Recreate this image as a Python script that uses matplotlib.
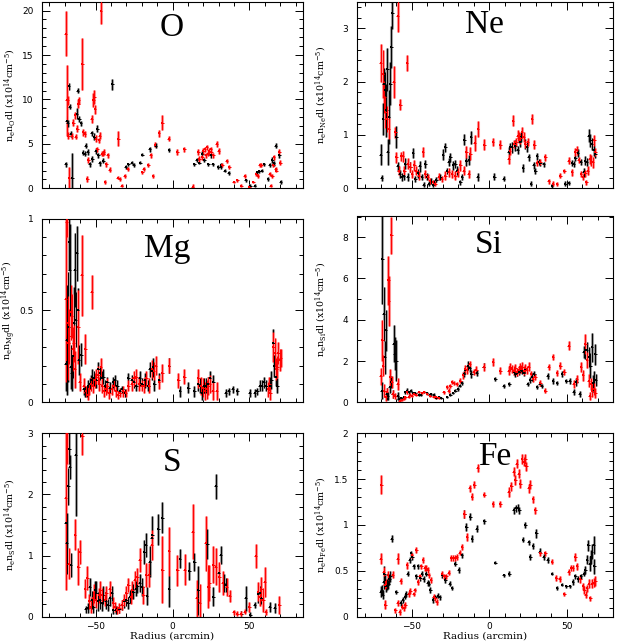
import matplotlib
matplotlib.use('Agg')
import matplotlib.pyplot as plt
from matplotlib.ticker import MultipleLocator, FuncFormatter

# ---------------- data: (radius, value, error) ----------------
O_RED = [(-69.3,17.4,2.5),(-68.8,9.9,4.0),(-68.2,9.9,0.5),(-67.7,5.9,0.4),(-67.3,1.2,1.2),(-65.6,5.9,0.3),(-64.5,7.4,0.4),
 (-63.4,8.2,0.4),(-62.8,5.8,0.3),(-61.9,6.7,0.4),(-61.3,9.5,0.5),(-60.8,9.9,0.4),(-58.7,14.0,2.9),(-58.0,6.3,0.4),
 (-56.9,6.1,0.3),(-55.4,1.05,0.3),(-54.8,3.2,0.3),(-52.6,7.8,0.4),(-51.5,9.9,0.8),(-50.9,10.3,0.8),(-50.4,8.9,0.5),
 (-49.8,5.6,0.4),(-48.9,4.4,0.3),(-47.8,5.4,0.3),(-47.2,5.9,0.4),(-46.5,20.0,1.5),(-45.9,3.9,0.3),(-45.0,3.9,0.3),
 (-44.6,4.1,0.3),(-43.9,0.7,0.2),(-42.9,2.7,0.3),(-42.2,3.7,0.3),(-40.7,2.1,0.3),(-35.7,1.2,0.2),(-35.1,5.6,0.8),
 (-34.2,1.05,0.2),(-33.1,0.3,0.2),(-31.0,1.4,0.2),(-29.2,2.2,0.2),(-19.5,1.8,0.2),(-18.6,2.2,0.2),(-15.6,2.6,0.2),
 (-14.1,3.7,0.3),(-12.6,1.4,0.2),(-11.3,4.9,0.3),(-8.7,6.2,0.4),(-6.5,7.4,0.8),(-2.4,5.6,0.3),(3.2,4.1,0.3),
 (7.6,4.4,0.3),(13.0,0.1,0.4),(16.7,4.1,0.3),(17.3,3.3,0.3),(19.3,3.5,0.3),(19.9,4.2,0.3),(21.0,4.4,0.3),(21.6,3.7,0.3),
 (22.3,4.6,0.3),(23.2,3.9,0.3),(23.8,4.2,0.3),(24.7,4.4,0.3),(25.1,4.1,0.3),(26.4,3.7,0.3),(28.6,5.0,0.3),(30.1,4.2,0.3),
 (32.3,2.6,0.2),(35.1,3.1,0.2),(36.8,2.4,0.2),(39.8,0.7,0.15),(42.2,0.9,0.15),(44.8,0.3,0.15),(47.0,1.4,0.2),
 (49.8,0.2,0.15),(52.4,0.7,0.15),(54.5,1.6,0.2),(55.6,1.4,0.2),(56.7,2.6,0.2),(57.8,2.6,0.2),(63.2,1.6,0.2),
 (63.9,0.3,0.15),(64.9,1.4,0.2),(65.4,2.6,0.2),(66.0,3.5,0.3),(67.1,2.2,0.2),(67.5,2.0,0.2),(69.3,4.1,0.3),(70.1,2.9,0.3)]
O_BLK = [(-69.5,2.7,0.3),(-68.8,7.6,0.5),(-68.2,7.3,0.4),(-67.5,11.5,0.4),(-66.7,9.2,0.3),(-66.2,6.1,0.3),(-65.2,1.2,2.8),
 (-62.3,8.4,0.6),(-61.7,11.0,0.3),(-60.6,7.8,0.3),(-59.5,7.3,0.3),(-58.0,4.0,0.3),(-56.9,3.9,0.3),(-56.3,4.8,0.3),
 (-55.2,4.1,0.3),(-53.7,2.7,0.3),(-52.6,6.2,0.3),(-52.0,3.3,0.3),(-50.9,5.8,0.4),(-50.0,4.2,0.3),(-48.9,6.7,0.4),
 (-48.3,3.7,0.3),(-47.2,2.8,0.3),(-45.0,3.1,0.3),(-39.2,11.7,0.6),(-30.3,2.4,0.2),(-28.8,2.7,0.2),(-26.6,2.9,0.2),
 (-25.1,2.6,0.2),(-20.8,2.9,0.2),(-19.5,3.8,0.2),(-14.7,4.4,0.3),(-10.8,4.8,0.3),(-2.2,4.3,0.2),(14.1,2.7,0.2),
 (15.6,3.2,0.2),(17.3,2.9,0.2),(19.3,3.9,0.3),(20.6,3.2,0.2),(23.2,2.7,0.2),(24.7,3.7,0.3),(26.0,2.7,0.2),(29.7,2.4,0.2),
 (31.2,2.4,0.2),(31.8,2.6,0.2),(34.0,2.0,0.2),(36.4,1.7,0.2),(47.6,0.9,0.2),(50.6,0.3,0.15),(53.5,0.3,0.15),
 (55.2,1.8,0.2),(56.3,1.9,0.2),(58.0,2.0,0.2),(59.5,2.7,0.2),(62.1,1.05,0.2),(63.2,2.6,0.2),(64.9,3.2,0.3),
 (66.0,2.8,0.3),(67.1,4.8,0.3),(69.3,3.7,0.3),(70.3,0.7,0.2)]

NE_RED = [(-69.9,2.35,0.35),(-68.6,2.14,0.45),(-67.7,1.71,0.3),(-67.1,1.43,0.3),(-66.0,1.30,0.25),(-64.9,1.12,0.2),
 (-61.7,2.0,0.3),(-60.6,1.05,0.1),(-60.0,0.58,0.1),(-59.1,3.23,0.3),(-58.5,0.33,0.08),(-57.4,1.57,0.1),(-56.8,0.60,0.08),
 (-55.7,0.60,0.1),(-54.8,0.33,0.08),(-53.1,2.35,0.15),(-52.5,0.46,0.1),(-51.0,0.40,0.1),(-49.9,0.27,0.08),(-48.4,0.43,0.1),
 (-47.1,0.33,0.08),(-45.6,0.24,0.08),(-42.8,0.68,0.1),(-41.3,0.27,0.08),(-39.8,0.21,0.06),(-38.1,0.14,0.06),
 (-36.3,0.11,0.05),(-34.8,0.09,0.05),(-32.7,0.22,0.06),(-30.5,0.18,0.06),(-28.4,0.24,0.08),(-26.2,0.30,0.08),
 (-24.1,0.27,0.08),(-21.9,0.24,0.08),(-20.2,0.30,0.08),(-18.7,0.43,0.1),(-16.6,0.33,0.08),(-14.8,0.68,0.12),
 (-13.3,0.27,0.08),(-12.3,0.65,0.12),(-9.5,0.85,0.15),(-7.3,1.12,0.15),(-3.2,0.82,0.1),(2.4,0.87,0.08),(7.1,0.82,0.08),
 (12.5,0.55,0.1),(13.1,0.70,0.08),(15.3,1.27,0.1),(16.1,0.83,0.08),(17.4,0.87,0.08),(18.3,0.99,0.1),(19.1,0.95,0.1),
 (20.0,0.94,0.1),(21.1,1.05,0.1),(22.2,0.96,0.1),(23.2,0.83,0.08),(24.7,0.87,0.08),(27.5,1.30,0.1),(29.0,0.82,0.08),
 (30.8,0.47,0.06),(32.9,0.49,0.06),(36.1,0.58,0.06),(38.3,0.13,0.04),(41.1,0.09,0.04),(43.7,0.08,0.04),(45.8,0.24,0.04),
 (48.4,0.33,0.04),(51.2,0.52,0.06),(53.3,0.30,0.06),(55.5,0.68,0.08),(56.6,0.71,0.08),(57.6,0.53,0.06),(59.1,0.27,0.06),
 (60.4,0.21,0.06),(61.9,0.28,0.06),(62.6,0.11,0.05),(63.4,0.33,0.08),(64.7,0.55,0.1),(65.6,0.52,0.1),(66.9,0.49,0.1),
 (67.7,0.90,0.1),(68.4,0.68,0.08)]
NE_BLK = [(-69.9,0.63,0.2),(-69.5,0.19,0.06),(-68.6,1.30,0.3),(-68.0,1.96,0.3),(-67.1,1.84,0.35),(-66.5,1.46,0.5),
 (-65.8,2.23,0.4),(-65.4,0.68,0.25),(-64.7,1.34,0.5),(-63.9,1.96,0.4),(-63.2,2.65,0.4),(-62.6,3.28,0.3),(-60.0,0.96,0.2),
 (-59.1,0.41,0.08),(-57.8,0.27,0.08),(-56.3,0.21,0.08),(-55.3,0.24,0.08),(-54.2,0.46,0.1),(-52.7,0.21,0.08),
 (-51.0,0.40,0.1),(-49.2,0.66,0.1),(-47.7,0.18,0.06),(-46.2,0.28,0.08),(-44.9,0.41,0.1),(-43.4,0.21,0.06),
 (-42.4,0.07,0.05),(-41.3,0.46,0.08),(-40.2,0.22,0.06),(-39.1,0.09,0.05),(-37.6,0.14,0.05),(-36.3,0.07,0.05),
 (-35.5,0.11,0.05),(-34.2,0.16,0.05),(-31.6,0.21,0.06),(-29.9,0.63,0.1),(-28.4,0.77,0.08),(-27.3,0.33,0.06),
 (-26.2,0.49,0.08),(-25.2,0.58,0.08),(-23.4,0.43,0.08),(-21.9,0.46,0.08),(-20.9,0.33,0.08),(-18.7,0.11,0.05),
 (-17.6,0.21,0.06),(-16.0,0.91,0.1),(-14.8,0.52,0.1),(-13.3,0.53,0.1),(-11.8,0.96,0.12),(-7.5,0.21,0.08),(3.2,0.22,0.06),
 (9.2,0.18,0.05),(12.5,0.68,0.1),(13.5,0.77,0.08),(14.6,0.77,0.1),(16.8,0.80,0.1),(18.3,0.72,0.08),(19.6,0.87,0.1),
 (20.6,0.96,0.1),(21.7,0.38,0.08),(23.2,0.83,0.1),(24.3,0.78,0.1),(25.4,0.58,0.06),(26.9,0.09,0.05),(28.6,0.43,0.06),
 (29.7,0.33,0.06),(30.8,0.60,0.06),(31.8,0.49,0.06),(32.9,0.47,0.06),(35.1,0.45,0.05),(40.4,0.05,0.04),(49.0,0.09,0.04),
 (51.2,0.10,0.04),(53.3,0.47,0.06),(54.4,0.46,0.06),(55.5,0.57,0.06),(57.2,0.66,0.08),(59.1,0.49,0.06),(60.9,0.30,0.08),
 (61.9,0.52,0.08),(63.0,0.49,0.08),(64.1,0.99,0.12),(65.2,0.90,0.12),(66.2,0.83,0.12),(67.3,0.71,0.1),(68.4,0.65,0.08)]

MG_RED = [(-69.5,0.56,0.45),(-68.8,0.98,0.08),(-68.2,0.43,0.15),(-67.7,0.32,0.2),(-67.1,0.36,0.15),(-66.2,0.49,0.15),
 (-65.6,0.47,0.12),(-64.9,0.29,0.12),(-64.1,0.32,0.1),(-63.4,0.18,0.1),(-61.3,0.41,0.2),(-60.2,0.11,0.05),
 (-58.9,0.69,0.22),(-57.6,0.09,0.04),(-56.7,0.29,0.08),(-56.3,0.06,0.03),(-55.2,0.04,0.03),(-54.1,0.07,0.03),
 (-53.2,0.10,0.04),(-52.4,0.60,0.09),(-51.5,0.09,0.04),(-50.4,0.12,0.04),(-49.4,0.14,0.04),(-48.3,0.15,0.05),
 (-47.6,0.10,0.04),(-46.5,0.19,0.05),(-45.5,0.09,0.04),(-44.4,0.06,0.03),(-43.3,0.07,0.03),(-42.4,0.09,0.04),
 (-41.1,0.05,0.03),(-39.6,0.07,0.03),(-38.1,0.09,0.03),(-36.4,0.06,0.03),(-35.1,0.04,0.02),(-33.8,0.05,0.02),
 (-32.0,0.06,0.03),(-30.3,0.05,0.02),(-28.8,0.09,0.03),(-26.6,0.10,0.04),(-24.9,0.13,0.04),(-23.4,0.14,0.04),
 (-21.6,0.10,0.04),(-19.9,0.09,0.03),(-18.6,0.09,0.04),(-16.9,0.13,0.04),(-15.2,0.09,0.04),(-13.6,0.18,0.05),
 (-12.1,0.17,0.05),(-10.8,0.20,0.05),(-8.7,0.11,0.04),(-6.5,0.16,0.05),(-2.2,0.20,0.04),(3.7,0.12,0.04),(7.6,0.14,0.04),
 (16.7,0.13,0.05),(18.4,0.09,0.05),(19.9,0.08,0.05),(21.0,0.06,0.05),(22.1,0.07,0.05),(23.2,0.09,0.05),(24.2,0.10,0.05),
 (26.0,0.06,0.05),(28.6,0.06,0.05),(62.1,0.07,0.04),(62.8,0.10,0.04),(63.6,0.05,0.04),(65.4,0.30,0.08),(66.5,0.27,0.08),
 (67.5,0.18,0.06),(68.2,0.19,0.06),(68.8,0.27,0.06),(69.7,0.23,0.06),(70.3,0.24,0.05)]
MG_BLK = [(-69.5,0.21,0.15),(-68.8,0.34,0.3),(-68.4,0.22,0.15),(-67.7,0.41,0.3),(-67.3,0.87,0.15),(-66.7,0.72,0.25),
 (-66.2,0.19,0.12),(-65.6,0.16,0.1),(-64.9,0.25,0.12),(-64.1,0.43,0.2),(-63.6,0.72,0.2),(-62.8,0.45,0.15),
 (-62.1,0.81,0.15),(-61.7,0.50,0.12),(-61.0,0.23,0.08),(-59.3,0.26,0.06),(-57.6,0.07,0.03),(-56.7,0.06,0.03),
 (-55.8,0.06,0.03),(-54.8,0.09,0.03),(-53.7,0.10,0.03),(-52.8,0.12,0.03),(-52.0,0.14,0.04),(-51.1,0.13,0.04),
 (-49.4,0.12,0.04),(-48.3,0.18,0.04),(-47.2,0.16,0.04),(-46.1,0.13,0.04),(-45.0,0.14,0.04),(-43.9,0.09,0.03),
 (-42.4,0.11,0.03),(-40.7,0.08,0.03),(-38.5,0.11,0.03),(-37.4,0.12,0.03),(-35.9,0.09,0.03),(-34.2,0.06,0.02),
 (-32.5,0.07,0.02),(-31.0,0.05,0.02),(-28.8,0.13,0.03),(-26.6,0.12,0.03),(-25.1,0.11,0.03),(-23.4,0.09,0.03),
 (-21.2,0.13,0.04),(-19.5,0.10,0.03),(-18.0,0.12,0.04),(-15.8,0.09,0.03),(-14.7,0.18,0.04),(-13.6,0.17,0.05),
 (-12.6,0.19,0.05),(-11.9,0.10,0.04),(-8.7,0.12,0.04),(-2.2,0.20,0.04),(4.8,0.06,0.03),(10.2,0.08,0.03),(14.1,0.06,0.03),
 (16.7,0.10,0.04),(17.7,0.09,0.04),(19.3,0.05,0.04),(20.3,0.09,0.04),(21.6,0.09,0.04),(23.2,0.10,0.04),(24.2,0.13,0.04),
 (26.4,0.11,0.04),(34.6,0.05,0.02),(36.6,0.06,0.02),(39.0,0.07,0.02),(42.0,0.06,0.02),(50.2,0.05,0.02),(53.5,0.05,0.02),
 (55.0,0.06,0.02),(56.7,0.09,0.03),(58.2,0.09,0.03),(59.5,0.11,0.03),(61.0,0.09,0.03),(63.2,0.09,0.05),(64.3,0.12,0.05),
 (65.4,0.32,0.08),(66.0,0.20,0.06),(67.1,0.14,0.05),(68.0,0.09,0.04)]

SI_RED = [(-69.9,1.26,0.4),(-69.0,3.0,1.0),(-68.6,1.78,0.5),(-67.7,0.57,0.3),(-66.9,0.24,0.2),(-66.0,0.49,0.2),
 (-65.2,5.9,1.2),(-64.7,4.9,1.2),(-63.9,1.21,0.4),(-63.2,8.1,0.9),(-62.8,0.97,0.3),(-62.2,0.40,0.2),(-60.6,0.32,0.15),
 (-59.1,0.89,0.3),(-57.8,0.08,0.06),(-56.3,0.11,0.06),(-55.3,0.16,0.06),(-54.2,0.24,0.06),(-53.1,0.52,0.1),
 (-52.0,0.28,0.06),(-51.0,0.37,0.06),(-49.9,0.32,0.06),(-48.8,0.40,0.06),(-47.1,0.37,0.06),(-45.6,0.49,0.06),
 (-43.4,0.44,0.06),(-41.9,0.49,0.06),(-40.2,0.40,0.06),(-38.1,0.32,0.06),(-35.9,0.28,0.06),(-34.2,0.24,0.06),
 (-32.7,0.21,0.06),(-29.5,0.49,0.08),(-27.3,0.73,0.1),(-26.2,0.57,0.1),(-25.2,0.81,0.1),(-24.1,0.97,0.1),(-23.0,0.92,0.1),
 (-20.9,0.89,0.1),(-18.7,1.05,0.12),(-17.0,1.30,0.15),(-15.5,1.62,0.2),(-14.4,1.57,0.2),(-12.7,1.86,0.15),
 (-10.1,1.46,0.15),(-8.4,1.57,0.2),(-3.7,1.70,0.2),(2.4,1.94,0.2),(7.1,1.54,0.15),(12.5,1.54,0.2),(13.5,1.70,0.2),
 (14.6,1.62,0.2),(15.7,1.54,0.2),(16.8,1.67,0.2),(17.8,1.46,0.2),(18.9,1.57,0.2),(19.6,1.70,0.2),(20.4,1.62,0.2),
 (21.3,1.73,0.2),(22.2,1.54,0.2),(23.2,1.67,0.2),(24.3,1.57,0.2),(25.4,1.73,0.2),(26.9,1.38,0.15),(28.2,1.13,0.15),
 (29.7,1.21,0.15),(32.9,0.92,0.15),(36.1,0.57,0.1),(38.3,1.70,0.15),(41.1,2.19,0.15),(43.7,1.41,0.15),(45.8,1.78,0.15),
 (48.4,1.46,0.15),(51.2,2.75,0.2),(54.4,0.89,0.2),(56.6,1.13,0.2),(59.1,1.70,0.25),(60.4,1.30,0.25),(61.9,2.83,0.5),
 (63.0,2.06,0.4),(64.1,1.05,0.3),(64.7,0.32,0.2),(65.6,0.89,0.3),(66.5,0.57,0.3),(67.3,0.65,0.3),(68.4,0.44,0.25)]
SI_BLK = [(-69.5,0.57,0.4),(-69.0,6.96,2.2),(-68.2,4.29,1.3),(-67.5,2.19,0.8),(-66.9,3.48,1.0),(-66.2,0.40,0.3),
 (-65.6,0.32,0.2),(-64.3,0.73,0.3),(-63.4,0.97,0.3),(-62.4,0.40,0.2),(-61.7,2.83,0.9),(-60.9,2.35,0.8),(-60.0,2.02,1.0),
 (-59.1,0.32,0.2),(-58.5,0.16,0.08),(-56.8,0.21,0.06),(-55.3,0.24,0.06),(-54.2,0.49,0.08),(-53.1,0.57,0.1),
 (-51.8,0.49,0.08),(-50.5,0.57,0.08),(-49.2,0.44,0.06),(-47.7,0.44,0.06),(-45.6,0.37,0.06),(-44.1,0.37,0.06),
 (-42.4,0.49,0.06),(-40.2,0.44,0.06),(-38.5,0.37,0.06),(-37.6,0.40,0.06),(-35.9,0.37,0.06),(-34.2,0.21,0.05),
 (-32.7,0.24,0.05),(-31.0,0.21,0.05),(-27.3,0.24,0.05),(-25.2,0.37,0.06),(-23.4,0.44,0.06),(-21.9,0.57,0.06),
 (-20.4,0.65,0.08),(-19.1,0.81,0.08),(-17.6,0.92,0.1),(-16.6,1.38,0.15),(-15.5,1.57,0.2),(-14.0,1.78,0.2),
 (-12.7,1.67,0.2),(-11.6,1.38,0.2),(-8.0,1.41,0.15),(-3.7,1.73,0.15),(3.9,1.13,0.1),(9.2,0.81,0.1),(12.9,0.89,0.1),
 (15.7,1.46,0.15),(16.8,1.38,0.15),(17.8,1.43,0.15),(18.9,1.46,0.15),(20.0,1.57,0.15),(21.1,1.54,0.15),(22.2,1.41,0.15),
 (23.2,1.62,0.2),(24.7,0.89,0.1),(26.5,1.08,0.15),(27.5,1.21,0.2),(29.0,1.38,0.15),(30.8,0.73,0.1),(32.5,0.89,0.1),
 (34.0,0.81,0.1),(37.6,1.26,0.15),(41.1,1.05,0.15),(43.7,0.92,0.1),(46.9,1.38,0.15),(49.7,1.05,0.1),(51.8,1.05,0.15),
 (54.4,0.49,0.15),(56.1,0.97,0.2),(58.3,0.40,0.15),(60.9,2.43,0.3),(61.9,2.51,0.4),(63.0,2.51,0.4),(64.1,2.19,0.5),
 (65.2,1.78,0.6),(66.2,2.67,0.7),(66.9,0.92,0.4),(67.7,1.13,0.4),(68.4,2.32,0.5),(68.8,1.08,0.3)]

S_RED = [(-69.5,1.94,1.5),(-68.8,3.0,0.5),(-67.5,0.87,0.25),(-63.4,1.34,0.25),(-61.3,0.82,0.3),(-60.2,1.06,0.2),
 (-58.7,2.95,0.3),(-56.9,0.46,0.15),(-55.4,0.63,0.2),(-54.1,0.25,0.12),(-53.0,0.16,0.1),(-51.9,0.30,0.12),
 (-50.9,0.38,0.15),(-49.4,0.27,0.12),(-47.8,0.35,0.12),(-46.8,0.44,0.15),(-45.5,0.35,0.12),(-43.9,0.27,0.1),
 (-42.9,0.38,0.12),(-40.7,0.46,0.12),(-38.5,0.22,0.1),(-37.4,0.16,0.08),(-35.9,0.11,0.06),(-34.6,0.14,0.08),
 (-33.1,0.19,0.08),(-31.6,0.27,0.1),(-29.9,0.38,0.12),(-28.8,0.52,0.12),(-27.1,0.33,0.12),(-26.0,0.44,0.15),
 (-24.5,0.60,0.15),(-22.9,0.65,0.15),(-21.2,0.93,0.2),(-19.0,0.35,0.15),(-16.9,0.68,0.2),(-15.2,0.68,0.2),
 (-13.6,1.17,0.25),(-6.5,0.77,0.55),(-2.2,1.07,0.4),(3.2,0.76,0.25),(8.0,0.77,0.25),(13.0,1.39,0.45),(15.6,0.30,0.3),
 (17.7,0.23,0.3),(21.6,1.20,0.45),(23.2,0.49,0.35),(23.8,0.55,0.3),(26.4,0.85,0.3),(28.1,0.82,0.3),(30.3,0.65,0.25),
 (32.5,0.55,0.2),(35.1,0.49,0.15),(37.2,0.34,0.1),(39.8,0.07,0.04),(42.0,0.05,0.04),(44.2,0.05,0.04),(47.0,0.08,0.04),
 (49.8,0.16,0.08),(54.1,0.99,0.2),(55.6,0.41,0.15),(56.7,0.33,0.15),(57.8,0.45,0.2),(59.0,0.27,0.2),(60.0,0.57,0.25),
 (60.6,0.08,0.05),(69.3,0.19,0.15)]
S_BLK = [(-69.5,1.53,0.35),(-68.8,1.20,0.5),(-67.7,2.13,0.3),(-67.1,2.75,0.25),(-66.7,2.45,0.2),(-66.0,0.85,0.2),
 (-62.8,2.65,1.0),(-56.3,0.12,0.06),(-54.8,0.14,0.08),(-53.7,0.49,0.15),(-52.6,0.27,0.15),(-51.5,0.16,0.1),
 (-50.4,0.44,0.15),(-49.4,0.38,0.2),(-48.3,0.25,0.15),(-47.2,0.27,0.15),(-46.1,0.22,0.12),(-45.0,0.35,0.15),
 (-43.3,0.25,0.12),(-41.8,0.19,0.1),(-40.7,0.30,0.12),(-39.6,0.38,0.12),(-38.5,0.11,0.06),(-36.4,0.11,0.06),
 (-34.6,0.12,0.06),(-33.1,0.19,0.08),(-31.4,0.25,0.1),(-29.9,0.27,0.1),(-28.8,0.23,0.1),(-27.7,0.33,0.1),
 (-25.5,0.41,0.12),(-23.8,0.46,0.12),(-22.9,0.50,0.12),(-21.2,0.55,0.15),(-19.5,0.49,0.15),(-18.4,1.06,0.2),
 (-17.3,1.17,0.2),(-16.5,0.34,0.15),(-14.7,0.90,0.25),(-13.6,1.28,0.3),(-13.0,1.34,0.3),(-9.3,1.43,0.25),
 (-6.7,1.62,0.25),(-2.2,0.46,0.3),(4.8,0.95,0.15),(10.8,0.75,0.15),(14.1,0.90,0.15),(16.7,0.43,0.4),(22.5,1.19,0.25),
 (26.4,0.33,0.15),(28.1,2.13,0.2),(30.1,0.71,0.15),(31.2,1.01,0.15),(33.3,0.55,0.15),(34.6,0.52,0.12),(44.8,0.05,0.04),
 (47.6,0.30,0.2),(50.6,0.03,0.04),(53.5,0.19,0.05),(55.6,0.37,0.15),(56.7,0.38,0.12),(57.8,0.30,0.1),(63.2,0.16,0.08),
 (66.5,0.14,0.08)]

FE_RED = [(-69.9,0.63,0.06),(-69.7,1.44,0.1),(-68.2,0.49,0.05),(-67.5,0.35,0.05),(-67.1,0.13,0.05),(-66.5,0.36,0.05),
 (-65.4,0.45,0.05),(-62.2,0.46,0.04),(-60.6,0.07,0.03),(-59.1,0.63,0.06),(-59.1,0.15,0.03),(-57.8,0.05,0.03),
 (-57.0,0.39,0.03),(-56.3,0.11,0.03),(-55.3,0.09,0.03),(-54.2,0.13,0.03),(-53.1,0.56,0.04),(-52.0,0.25,0.03),
 (-51.0,0.28,0.03),(-49.9,0.67,0.03),(-48.8,0.25,0.02),(-48.2,0.29,0.02),(-47.1,0.73,0.03),(-46.0,0.38,0.03),
 (-44.9,0.44,0.03),(-43.9,0.55,0.03),(-42.8,0.62,0.03),(-41.7,0.53,0.03),(-40.6,0.53,0.03),(-39.8,0.51,0.03),
 (-39.1,0.45,0.03),(-37.6,0.40,0.03),(-35.9,0.22,0.03),(-34.8,0.20,0.03),(-33.8,0.16,0.03),(-30.5,0.47,0.03),
 (-29.0,0.44,0.03),(-27.7,0.44,0.03),(-26.2,0.48,0.03),(-24.7,0.64,0.03),(-23.4,0.64,0.03),(-21.9,0.64,0.03),
 (-20.9,0.65,0.03),(-19.1,0.70,0.03),(-17.6,0.76,0.03),(-16.1,1.12,0.04),(-14.4,0.87,0.04),(-12.7,1.40,0.04),
 (-11.2,1.31,0.04),(-9.7,1.44,0.04),(-7.5,1.62,0.04),(-3.2,1.33,0.03),(2.4,1.23,0.03),(7.1,1.23,0.03),(12.5,1.36,0.05),
 (14.2,1.42,0.05),(15.7,1.58,0.05),(16.8,1.49,0.05),(17.8,1.67,0.05),(18.9,1.56,0.05),(20.0,1.45,0.05),(21.1,1.72,0.05),
 (22.2,1.69,0.05),(23.2,1.72,0.05),(23.9,1.64,0.05),(25.4,1.40,0.05),(26.5,1.44,0.05),(28.2,1.28,0.04),(29.7,1.16,0.04),
 (32.9,0.69,0.03),(36.1,0.69,0.03),(40.4,0.60,0.03),(43.2,0.42,0.03),(45.4,0.41,0.03),(48.4,0.25,0.02),(51.2,0.49,0.03),
 (52.9,0.53,0.03),(54.0,0.53,0.03),(55.5,0.65,0.04),(56.6,0.55,0.04),(58.7,0.41,0.04),(60.4,0.33,0.04),(61.3,0.29,0.04),
 (62.2,0.24,0.04),(63.0,0.31,0.04),(64.1,0.36,0.05),(65.2,0.20,0.03),(66.2,0.36,0.05),(67.3,0.37,0.05),(68.4,0.39,0.05)]
FE_BLK = [(-69.9,0.27,0.06),(-69.5,0.29,0.06),(-68.8,0.24,0.05),(-68.2,0.38,0.08),(-67.7,0.47,0.08),(-67.1,0.40,0.06),
 (-66.5,0.33,0.06),(-65.8,0.35,0.06),(-65.2,0.36,0.06),(-64.5,0.41,0.06),(-63.9,0.44,0.06),(-62.8,0.85,0.04),
 (-60.0,0.27,0.02),(-57.0,0.15,0.03),(-55.7,0.18,0.03),(-54.4,0.22,0.03),(-53.5,0.25,0.03),(-52.5,0.47,0.03),
 (-51.4,0.62,0.03),(-50.5,0.69,0.03),(-49.7,0.65,0.03),(-48.8,0.55,0.03),(-47.1,0.44,0.03),(-46.0,0.55,0.03),
 (-44.5,0.42,0.03),(-43.4,0.47,0.03),(-42.4,0.41,0.03),(-40.6,0.47,0.03),(-39.8,0.37,0.03),(-38.9,0.36,0.03),
 (-38.1,0.29,0.03),(-36.3,0.18,0.03),(-34.8,0.21,0.03),(-33.3,0.23,0.03),(-32.0,0.21,0.03),(-30.5,0.45,0.03),
 (-28.4,0.40,0.03),(-25.6,0.36,0.03),(-24.1,0.31,0.02),(-21.9,0.58,0.03),(-19.8,0.51,0.03),(-17.6,0.67,0.03),
 (-16.1,1.12,0.04),(-14.8,0.98,0.04),(-12.3,1.09,0.04),(-11.2,0.85,0.04),(-8.0,0.96,0.04),(-3.2,1.04,0.03),
 (3.9,0.59,0.02),(9.2,0.45,0.02),(12.9,0.47,0.03),(15.7,1.16,0.04),(17.2,1.18,0.04),(18.3,1.19,0.04),(19.4,1.16,0.04),
 (21.7,0.84,0.03),(23.2,1.00,0.03),(25.4,0.81,0.03),(26.5,0.65,0.03),(28.2,0.77,0.03),(30.3,0.91,0.05),(32.5,0.71,0.04),
 (35.1,0.65,0.03),(37.6,0.62,0.03),(40.4,0.47,0.02),(43.7,0.31,0.02),(46.9,0.35,0.02),(49.7,0.33,0.02),(51.8,0.33,0.02),
 (54.0,0.38,0.03),(55.5,0.44,0.03),(57.2,0.41,0.03),(59.1,0.44,0.03),(60.9,0.47,0.03),(61.9,0.51,0.04),(63.0,0.62,0.05),
 (63.9,0.78,0.06),(64.7,0.58,0.08),(65.6,0.65,0.08),(66.2,0.71,0.08),(67.3,0.78,0.1),(67.7,0.55,0.08)]

ELEMENTS = ['O', 'Ne', 'Mg', 'Si', 'S', 'Fe']
YLIMS = [(0, 21), (0, 3.5), (0, 1), (0, 9), (0, 3), (0, 2)]
YMAJOR = [5, 1, 0.5, 2, 1, 0.5]
YMINOR = [1, 0.2, 0.1, 1, 0.2, 0.1]
SERIES = [(O_RED, O_BLK), (NE_RED, NE_BLK), (MG_RED, MG_BLK), (SI_RED, SI_BLK), (S_RED, S_BLK), (FE_RED, FE_BLK)]
XLABEL = 'Radius (arcmin)'

# ---------------- layout (pixels) ----------------
W, H = 620, 644
plt.rcParams['mathtext.fontset'] = 'dejavuserif'
fig = plt.figure(figsize=(W / 100, H / 100), dpi=100)

BOXES = [(41.7, 1.7, 303.3, 188.3), (356.7, 1.7, 613.3, 188.3),
         (41.7, 218.5, 303.3, 402.3), (356.7, 216.5, 613.3, 402.3),
         (41.7, 433.3, 303.3, 616.7), (356.7, 433.3, 613.3, 616.7)]
XLIMS = [(-85, 85), (-85.5, 80), (-85, 85), (-85.5, 80), (-85, 85), (-85.5, 80)]
YLABEL_X = [18.5, 329.0, 18.5, 329.0, 18.5, 329.0]
LABEL_POS = [(171.7, 36), (484, 33.3), (166.7, 256.7), (488.7, 253.3), (172, 471), (495, 465)]


def fmt(v, p):
    s = '%g' % v
    return s.replace('-', '\u2212')


def draw(ax, data, color, light):
    x = [d[0] for d in data]
    y = [d[1] for d in data]
    e = [d[2] for d in data]
    ax.errorbar(x, y, yerr=e, fmt='none', ecolor=light, elinewidth=2.2, capsize=0, zorder=2)
    ax.errorbar(x, y, yerr=e, xerr=0.9, fmt='s', ms=1.5, mfc=color, mec=color, mew=0,
                ecolor=color, elinewidth=0.7, capsize=0, zorder=3)


for i, el in enumerate(ELEMENTS):
    l, t, r, b = BOXES[i]
    ax = fig.add_axes([l / W, 1 - b / H, (r - l) / W, (b - t) / H])
    red, blk = SERIES[i]
    draw(ax, blk, 'black', '#a0a0a0')
    draw(ax, red, '#ff0000', '#ff9090')
    ax.set_xlim(*XLIMS[i])
    ax.set_ylim(*YLIMS[i])
    ax.xaxis.set_major_locator(MultipleLocator(50))
    ax.xaxis.set_minor_locator(MultipleLocator(10))
    ax.yaxis.set_major_locator(MultipleLocator(YMAJOR[i]))
    ax.yaxis.set_minor_locator(MultipleLocator(YMINOR[i]))
    ax.tick_params(which='both', direction='in', top=True, right=True, width=0.7)
    ax.tick_params(which='major', length=6, labelsize=6.5, pad=6)
    ax.tick_params(which='minor', length=3)
    ax.tick_params(axis='x', which='major', pad=4)
    ax.yaxis.set_major_formatter(FuncFormatter(fmt))
    ax.xaxis.set_major_formatter(FuncFormatter(fmt))
    for sp in ax.spines.values():
        sp.set_linewidth(0.8)
    if i < 4:
        ax.tick_params(axis='x', labelbottom=False)
    else:
        ax.set_xlabel(XLABEL, family='DejaVu Serif', fontsize=7.5)
        ax.xaxis.set_label_coords(0.5, -0.082)
    ax.set_ylabel(r'n$_{\rm e}$n$_{\rm %s}$dl (x10$^{14}$cm$^{-5}$)' % el,
                  family='DejaVu Serif', fontsize=6.8)
    ax.yaxis.set_label_coords((YLABEL_X[i] - l) / (r - l), 0.5)
    lx, ly = LABEL_POS[i]
    fig.text(lx / W, 1 - ly / H, el, family='Liberation Serif', fontsize=24,
             ha='center', va='baseline')

fig.savefig('out.png', dpi=100)
